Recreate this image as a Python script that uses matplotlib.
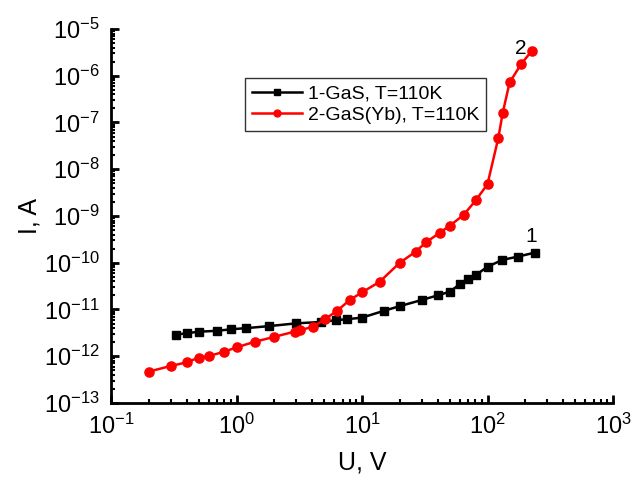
import matplotlib.pyplot as plt
from matplotlib.ticker import LogLocator, NullFormatter

plt.rcParams['font.family'] = ['Liberation Sans', 'DejaVu Sans']
plt.rcParams['mathtext.default'] = 'regular'
plt.rcParams['axes.unicode_minus'] = False

# curve 1: GaS
u1 = [0.33, 0.4, 0.5, 0.7, 0.9, 1.2, 1.8, 3.0, 4.7, 6.2, 7.6, 10, 15, 20,
      30, 40, 50, 60, 70, 81, 100, 131, 174, 237]
i1 = [2.9e-12, 3.1e-12, 3.35e-12, 3.5e-12, 3.77e-12, 4.0e-12, 4.4e-12, 5.06e-12,
      5.4e-12, 5.9e-12, 6.2e-12, 6.7e-12, 9.4e-12, 1.18e-11,
      1.6e-11, 2.0e-11, 2.4e-11, 3.45e-11, 4.4e-11, 5.5e-11, 8.2e-11, 1.15e-10, 1.35e-10, 1.64e-10]

# curve 2: GaS(Yb)
u2 = [0.2, 0.3, 0.4, 0.5, 0.6, 0.8, 1.0, 1.4, 2.0, 2.9, 3.2, 4.1, 5.1, 6.3, 8.0,
      10, 13.8, 20, 26.7, 32.4, 41.7, 50, 64.5, 81, 100, 122, 132, 150, 185, 225]
i2 = [4.7e-13, 6.2e-13, 7.4e-13, 9.3e-13, 1.01e-12, 1.25e-12, 1.55e-12, 2.04e-12,
      2.6e-12, 3.36e-12, 3.6e-12, 4.3e-12, 6.3e-12, 9.3e-12, 1.6e-11,
      2.33e-11, 3.9e-11, 1.0e-10, 1.72e-10, 2.74e-10, 4.4e-10, 6.2e-10, 1.05e-9,
      2.2e-9, 4.8e-9, 4.7e-8, 1.57e-7, 7.2e-7, 1.76e-6, 3.4e-6]

fig = plt.figure(figsize=(6.34, 4.86), dpi=100)
ax = fig.add_axes([111 / 634, 83 / 486, 502 / 634, 374 / 486])

ax.plot(u1, i1, '-s', color='black', lw=1.8, ms=6, label='1-GaS, T=110K')
ax.plot(u2, i2, '-o', color='red', lw=1.8, ms=6.6, label='2-GaS(Yb), T=110K')

ax.set_xscale('log')
ax.set_yscale('log')
ax.set_xlim(0.1, 1000)
ax.set_ylim(1e-13, 1e-5)

ax.spines['top'].set_visible(False)
ax.spines['right'].set_visible(False)
ax.spines['left'].set_linewidth(2)
ax.spines['bottom'].set_linewidth(2)

ax.xaxis.set_major_locator(LogLocator(base=10, numticks=20))
ax.yaxis.set_major_locator(LogLocator(base=10, numticks=20))
ax.xaxis.set_minor_locator(LogLocator(base=10, subs=range(2, 10), numticks=20))
ax.yaxis.set_minor_locator(LogLocator(base=10, subs=range(2, 10), numticks=20))
ax.xaxis.set_minor_formatter(NullFormatter())
ax.yaxis.set_minor_formatter(NullFormatter())
ax.tick_params(which='major', direction='in', length=6, width=2, labelsize=17, pad=8)
ax.tick_params(which='minor', direction='in', length=3, width=1.5)

ax.set_xlabel('U, V', fontsize=18, labelpad=8)
ax.set_ylabel('I, A', fontsize=18, labelpad=2)

ax.text(200, 2.3e-10, '1', fontsize=15, ha='left', va='bottom')
ax.text(205, 3.9e-6, '2', fontsize=15, ha='right', va='center')

leg = ax.legend(loc='upper left', bbox_to_anchor=(134 / 502, (403 - 78) / 374),
                fontsize=14, frameon=True, fancybox=False, edgecolor='black',
                markerscale=0.75, handlelength=2.6, borderpad=0.35, labelspacing=0.2,
                handletextpad=0.3, borderaxespad=0)
leg.get_frame().set_linewidth(1)

fig.savefig('out.png', dpi=100)
